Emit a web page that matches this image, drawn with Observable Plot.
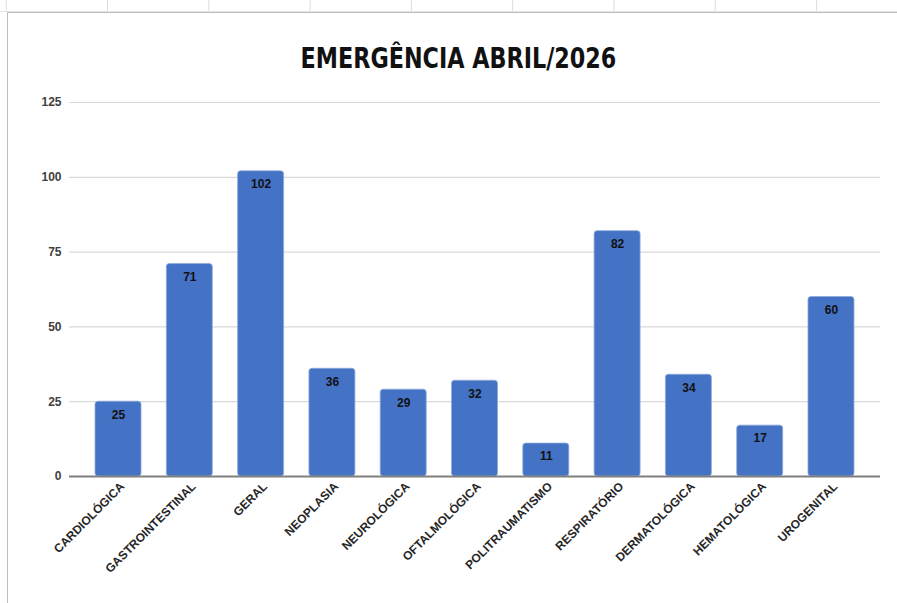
<!DOCTYPE html>
<html>
<head>
<meta charset="utf-8">
<script src="https://cdn.jsdelivr.net/npm/d3@7"></script>
<script src="https://cdn.jsdelivr.net/npm/@observablehq/plot@0.6"></script>
<style>
  html, body { margin: 0; padding: 0; background: #fff; }
  body { width: 897px; height: 603px; position: relative; overflow: hidden;
         font-family: "DejaVu Sans Condensed", "Liberation Sans", sans-serif; }
  #sheet { position: absolute; left: 0; top: 0; width: 897px; height: 11px;
           background-image: linear-gradient(90deg, #dcdcdc 0 1px, transparent 1px);
           background-size: 101.3px 100%; background-position: 107px 0;
           border-bottom: 1px solid #e3e3e3; }
  #frame { position: absolute; left: 7px; top: 12px; width: 890px; height: 591px;
           border-left: 1.5px solid #bdbdbd; border-top: 1.5px solid #bdbdbd; background: #fff; }
  #title { position: absolute; left: 0; top: 42px; width: 917px; text-align: center;
           font-family: "DejaVu Sans Condensed", "Liberation Sans", sans-serif;
           font-weight: bold; font-size: 28px; color: #111; line-height: 34px;
           transform: scaleX(0.885); transform-origin: 458px 0; }
  #chart { position: absolute; left: 0; top: 85px; }
  #chart svg { overflow: visible; }
</style>
</head>
<body>
<div id="sheet"></div>
<div id="frame"></div>
<div id="title">EMERGÊNCIA ABRIL/2026</div>
<div id="chart"></div>
<script>
const categories = ["CARDIOLÓGICA", "GASTROINTESTINAL", "GERAL", "NEOPLASIA", "NEUROLÓGICA",
  "OFTALMOLÓGICA", "POLITRAUMATISMO", "RESPIRATÓRIO", "DERMATOLÓGICA", "HEMATOLÓGICA", "UROGENITAL"];
const values = [25, 71, 102, 36, 29, 32, 11, 82, 34, 17, 60];
const yTicks = [0, 25, 50, 75, 100, 125];

const data = categories.map((c, i) => ({category: c, value: values[i]}));

const plot = Plot.plot({
  width: 897,
  height: 518,
  marginTop: 17,
  marginBottom: 127,
  marginLeft: 69,
  marginRight: 17,
  style: {fontFamily: "'Liberation Sans', 'DejaVu Sans', sans-serif", background: "transparent", overflow: "visible"},
  x: {domain: categories, paddingInner: 0.355, paddingOuter: 0.365, round: false, label: null},
  y: {domain: [0, 125], label: null},
  marks: [
    Plot.ruleY(yTicks.filter(d => d > 0), {stroke: "#d9d9d9", strokeWidth: 1.2}),
    Plot.barY(data, {x: "category", y: "value", fill: "#4472C4", stroke: "#8eaadb", strokeWidth: 0.8, rx: 3}),
    Plot.ruleY([0], {stroke: "#7f7f7f", strokeWidth: 2}),
    Plot.text(data, {x: "category", y: "value", text: d => String(d.value), dy: 13,
      fontWeight: "bold", fontSize: 12, fill: "#111"}),
    Plot.axisY({ticks: yTicks, tickSize: 0, tickPadding: 8, fontWeight: "bold", fontSize: 12,
      fill: "#404040", tickFormat: d => String(d)}),
    Plot.axisX({tickSize: 0, tickRotate: -45, tickPadding: 8, fontWeight: "bold", fontSize: 12,
      fill: "#262626", dx: 4})
  ]
});
document.getElementById("chart").appendChild(plot);
</script>
</body>
</html>
